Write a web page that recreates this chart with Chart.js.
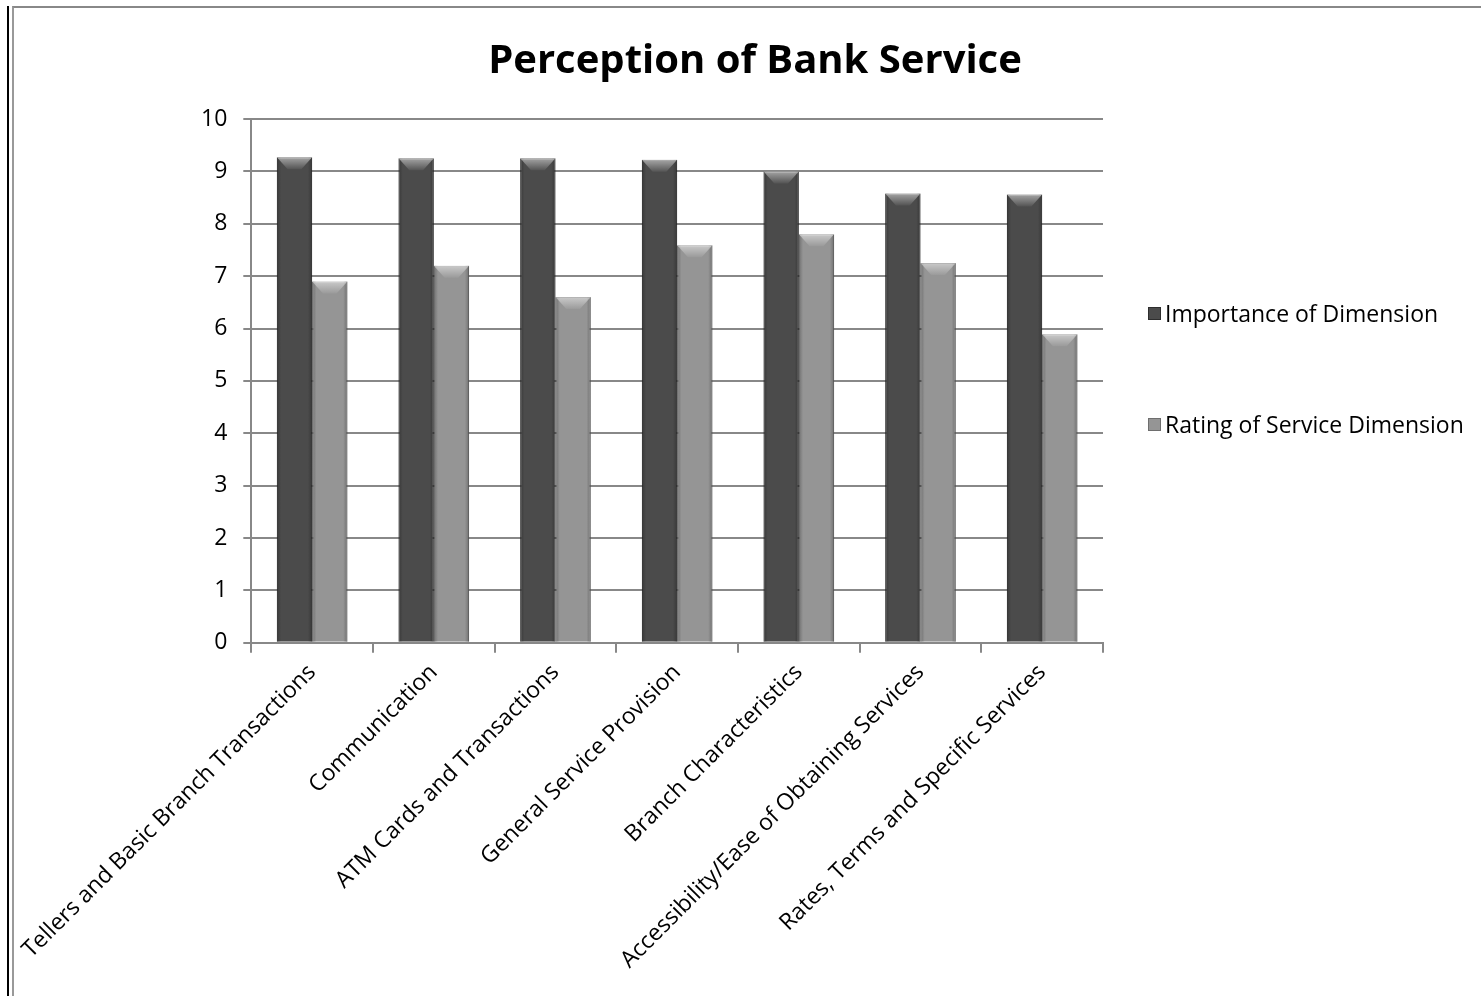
<!DOCTYPE html>
<html>
<head>
<meta charset="utf-8">
<script src="https://cdn.jsdelivr.net/npm/chart.js@4/dist/chart.umd.min.js"></script>
<style>
  html, body { margin: 0; padding: 0; background: #fff; }
  body { width: 1481px; height: 996px; position: relative; overflow: hidden; font-family: "Open Sans", sans-serif; }
  #edge { position: absolute; left: 7px; top: 6px; width: 2px; height: 990px; background: #000; }
  #frame { position: absolute; left: 12px; top: 6px; width: 1480px; height: 1000px;
           border-top: 2px solid #888; border-left: 2px solid #999; }
  #wrap { position: absolute; left: 14px; top: 8px; width: 1467px; height: 988px; }
  #title { position: absolute; left: 455px; width: 600px; top: 33px; height: 50px; line-height: 50px;
           text-align: center; font-size: 40px; font-weight: bold; color: #000; }
  #legend { position: absolute; left: 1148px; top: 296px; }
  .item { display: flex; align-items: center; height: 34px; margin-bottom: 77px; font-size: 23px; color: #000; }
  .swatch { width: 13px; height: 13px; margin-right: 4px; box-sizing: border-box; }
</style>
</head>
<body>
<div id="edge"></div>
<div id="frame"></div>
<div id="wrap"><canvas id="chart"></canvas></div>
<div id="title">Perception of Bank Service</div>
<div id="legend"></div>
<script>
const categories = [
  'Tellers and Basic Branch Transactions',
  'Communication',
  'ATM Cards and Transactions',
  'General Service Provision',
  'Branch Characteristics',
  'Accessibility/Ease of Obtaining Services',
  'Rates, Terms and Specific Services'
];
const importance = [9.27, 9.25, 9.25, 9.22, 9.0, 8.58, 8.56];
const rating = [6.9, 7.2, 6.6, 7.59, 7.8, 7.25, 5.89];
const seriesNames = ['Importance of Dimension', 'Rating of Service Dimension'];
const seriesColors = ['#4b4b4b', '#959595'];
const seriesEdges = ['#2e2e2e', '#6e6e6e'];

Chart.defaults.font.family = '"Open Sans", sans-serif';
Chart.defaults.color = '#000';

// bevel look: dark sides and a lighter wedge at the top of each bar
const bevel = {
  id: 'bevel',
  afterDatasetsDraw(chart) {
    const ctx = chart.ctx;
    chart.data.datasets.forEach((ds, di) => {
      chart.getDatasetMeta(di).data.forEach(bar => {
        const l = bar.x - bar.width / 2, r = bar.x + bar.width / 2;
        const t = bar.y, b = bar.base;
        ctx.save();
        const g = ctx.createLinearGradient(l, 0, r, 0);
        g.addColorStop(0, 'rgba(0,0,0,0.25)');
        g.addColorStop(0.12, 'rgba(0,0,0,0)');
        g.addColorStop(0.88, 'rgba(0,0,0,0)');
        g.addColorStop(1, 'rgba(0,0,0,0.25)');
        ctx.fillStyle = g;
        ctx.fillRect(l, t, r - l, b - t);
        const d = Math.min(12, (b - t) / 2);
        const tg = ctx.createLinearGradient(0, t, 0, t + d);
        tg.addColorStop(0, 'rgba(255,255,255,0.5)');
        tg.addColorStop(1, 'rgba(255,255,255,0.05)');
        ctx.fillStyle = tg;
        ctx.beginPath();
        ctx.moveTo(l, t);
        ctx.lineTo(r, t);
        ctx.lineTo(r - d * 0.9, t + d);
        ctx.lineTo(l + d * 0.9, t + d);
        ctx.closePath();
        ctx.fill();
        ctx.restore();
      });
    });
  }
};

new Chart(document.getElementById('chart').getContext('2d'), {
  type: 'bar',
  data: {
    labels: categories,
    datasets: [{
      label: seriesNames[0],
      data: importance,
      backgroundColor: seriesColors[0],
      borderColor: seriesEdges[0],
      borderWidth: 1,
      barPercentage: 1,
      categoryPercentage: 0.58
    }, {
      label: seriesNames[1],
      data: rating,
      backgroundColor: seriesColors[1],
      borderColor: seriesEdges[1],
      borderWidth: 1,
      barPercentage: 1,
      categoryPercentage: 0.58
    }]
  },
  options: {
    responsive: true,
    maintainAspectRatio: false,
    animation: false,
    layout: { padding: { left: 171, right: 378, top: 111, bottom: 16 } },
    plugins: {
      title: { display: false },
      legend: { display: false },
      tooltip: { enabled: false }
    },
    scales: {
      x: {
        // the long first label may run into the left margin, like the original
        afterFit: scale => { scale.paddingLeft = 0; },
        grid: { drawOnChartArea: false, drawTicks: true, tickLength: 10, color: '#888', lineWidth: 2 },
        border: { color: '#888', width: 2 },
        ticks: { font: { size: 23 }, maxRotation: 45, minRotation: 45, color: '#000', padding: 6 }
      },
      y: {
        min: 0,
        max: 10,
        grid: { color: '#888', lineWidth: 2, tickLength: 8 },
        border: { color: '#888', width: 2 },
        ticks: { stepSize: 1, font: { size: 23 }, color: '#000', padding: 16 }
      }
    }
  },
  plugins: [bevel]
});

// legend built from the same series arrays
const legend = document.getElementById('legend');
seriesNames.forEach((name, i) => {
  const item = document.createElement('div');
  item.className = 'item';
  item.innerHTML = `<span class="swatch" style="background:${seriesColors[i]};border:1px solid ${seriesEdges[i]}"></span>${name}`;
  legend.appendChild(item);
});
</script>
</body>
</html>
